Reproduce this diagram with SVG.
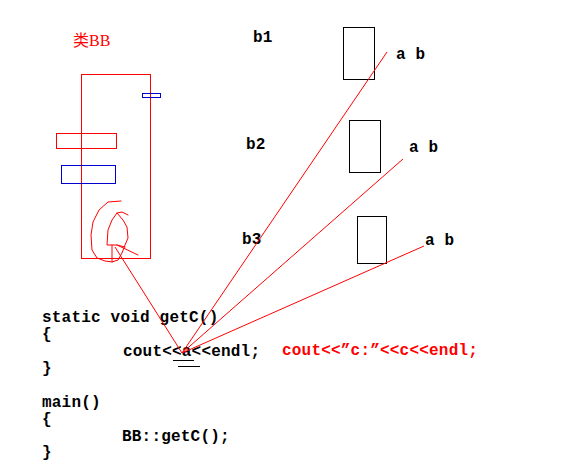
<svg xmlns="http://www.w3.org/2000/svg" width="570" height="469" viewBox="0 0 570 469">
<style>
.code{font-family:"Liberation Mono","DejaVu Sans Mono",monospace;font-weight:bold;font-size:16px;letter-spacing:0.2px;fill:#000}
.red{fill:#ff0000}
.box{fill:none;stroke:#000;stroke-width:1}
.rbox{fill:none;stroke:#ff0000;stroke-width:1}
.bbox{fill:none;stroke:#0000cc;stroke-width:1}
.wire{fill:none;stroke:#ff0000;stroke-width:1}
.ink{fill:none;stroke:#ff0000;stroke-width:1;stroke-linejoin:round;stroke-linecap:round}
</style>
<rect width="570" height="469" fill="#fff"/>
<g id="classBB">
<text x="73" y="46" style="font-family:'Liberation Serif','Noto Sans CJK SC',serif;font-size:16px;fill:#ff0000">类BB</text>
<rect class="rbox" x="81.5" y="74.5" width="69" height="184"/>
<rect class="bbox" x="142.5" y="93.5" width="18" height="4"/>
<rect class="rbox" x="56.5" y="133.5" width="60" height="15"/>
<rect class="bbox" x="61.5" y="165.5" width="54" height="18"/>
<path class="ink" d="M121,201 L108,202 L99,210 L93,222 L91,235 L92,250 L97,258 L105,261 L112,262"/>
<path class="ink" d="M128,215 L122,212 L117,213 L112,220 L108,230 L107,245 L117,245 L125,247"/>
<path class="ink" d="M117,213 L123,220 L127,227 L128,238 L125,245 L122,253 L118,260 L112,262 L112,245"/>
<path class="ink" d="M117,245 L138,255"/>
</g>
<g id="b1">
<text class="code" x="253" y="42">b1</text>
<rect class="box" x="343.5" y="27.5" width="31" height="52"/>
<text class="code" x="396" y="59">a b</text>
</g>
<g id="b2">
<text class="code" x="246" y="149">b2</text>
<rect class="box" x="349.5" y="120.5" width="31" height="52"/>
<text class="code" x="409" y="152">a b</text>
</g>
<g id="b3">
<text class="code" x="242" y="244">b3</text>
<rect class="box" x="357.5" y="216.5" width="29" height="47"/>
<text class="code" x="425" y="245">a b</text>
</g>
<g id="code">
<text class="code" x="42" y="322">static void getC()</text>
<text class="code" x="42" y="339">{</text>
<text class="code" x="123" y="356">cout&lt;&lt;a&lt;&lt;endl;</text>
<text class="code" x="42" y="373">}</text>
<text class="code" x="42" y="407">main()</text>
<text class="code" x="42" y="424">{</text>
<text class="code" x="122" y="441">BB::getC();</text>
<text class="code" x="42" y="457">}</text>
<path d="M173,360.5 H194 M178,366.5 H200" stroke="#000" stroke-width="1" fill="none"/>
</g>
<g id="note">
<text class="code red" x="282" y="355">cout&lt;&lt;”c:”&lt;&lt;c&lt;&lt;endl;</text>
</g>
<g id="connectors">
<line class="wire" x1="387" y1="52" x2="182" y2="353"/>
<line class="wire" x1="403" y1="159" x2="182" y2="353"/>
<line class="wire" x1="424" y1="246" x2="182" y2="353"/>
<line class="wire" x1="115" y1="247" x2="182" y2="353"/>
</g>
</svg>
